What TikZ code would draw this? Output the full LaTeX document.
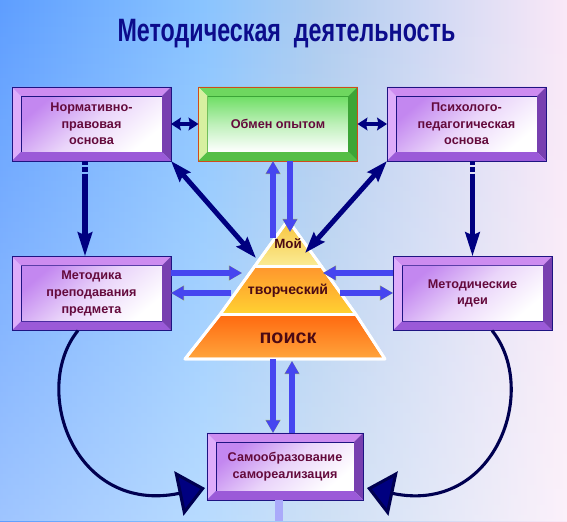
\documentclass[tikz,border=0pt]{standalone}
\usepackage{fontspec}
\setmainfont{Liberation Sans}
\newfontfamily\titlefont[FakeStretch=0.72]{Liberation Sans}
\usetikzlibrary{calc,arrows.meta,fadings}

\definecolor{titleblue}{RGB}{12,12,140}
\definecolor{boxtext}{RGB}{100,10,60}
\definecolor{pyrtext}{RGB}{75,10,20}
\definecolor{navyarrow}{RGB}{0,0,128}
\definecolor{curvenavy}{RGB}{0,0,80}
\definecolor{bluearrow}{RGB}{70,70,240}
\definecolor{bluerim}{RGB}{170,185,80}
\definecolor{bartint}{RGB}{170,170,250}
% purple frames
\definecolor{pupface}{RGB}{195,135,240}
\definecolor{puptop}{RGB}{205,140,240}
\definecolor{pupleft}{RGB}{222,172,250}
\definecolor{pupright}{RGB}{120,64,176}
\definecolor{pupbottom}{RGB}{155,90,216}
\definecolor{pupline}{RGB}{30,20,130}
% green frame
\definecolor{grnface}{RGB}{110,222,100}
\definecolor{grntop}{RGB}{110,215,95}
\definecolor{grnleft}{RGB}{215,240,160}
\definecolor{grnright}{RGB}{60,165,55}
\definecolor{grnbottom}{RGB}{85,190,70}
\definecolor{grnline}{RGB}{210,75,25}

\pgfdeclarehorizontalshading{backdrop}{100bp}{rgb(0bp)=(0.37,0.62,1);rgb(25bp)=(0.37,0.62,1);rgb(43bp)=(0.54,0.77,1);rgb(53bp)=(0.68,0.80,0.94);rgb(75bp)=(0.98,0.91,0.97);rgb(100bp)=(0.98,0.91,0.97)}

\newcommand{\bevelframe}[2]{%
  \fill[#2top] (#1.north west) -- (#1.north east) -- ($(#1.north east)+(-9,9)$) -- ($(#1.north west)+(9,9)$) -- cycle;
  \fill[#2left] (#1.north west) -- ($(#1.north west)+(9,9)$) -- ($(#1.south west)+(9,-9)$) -- (#1.south west) -- cycle;
  \fill[#2right] (#1.north east) -- ($(#1.north east)+(-9,9)$) -- ($(#1.south east)+(-9,-9)$) -- (#1.south east) -- cycle;
  \fill[#2bottom] (#1.south west) -- ($(#1.south west)+(9,-9)$) -- ($(#1.south east)+(-9,-9)$) -- (#1.south east) -- cycle;
  \draw[#2line] (#1.north west) rectangle (#1.south east);
}

\tikzset{
  framebox/.style={rectangle, inner sep=2pt, outer sep=0.225cm,
    minimum width=3.525cm, minimum height=1.4cm, align=center,
    text=boxtext, font=\bfseries\fontsize{9}{11.8}\selectfont},
  pupbox/.style={framebox, draw=pupline, top color=pupface, bottom color=white,
    middle color=pupface!35!white, shading angle=40},
  grnbox/.style={framebox, draw=grnright, top color=grnface, bottom color=white,
    middle color=grnface!45!white},
  navyarr/.style={draw=navyarrow, line width=3.5pt,
    {Stealth[length=15pt,width=10pt,inset=2pt]}-{Stealth[length=15pt,width=10pt,inset=2pt]}},
  navyshort/.style={draw=navyarrow, line width=3.5pt,
    {Stealth[length=7pt,width=9pt,inset=1pt]}-{Stealth[length=7pt,width=9pt,inset=1pt]}},
  navydown/.style={draw=navyarrow, line width=4pt, -{Stealth[length=17pt,width=10pt,inset=2pt]},
    dash pattern=on 3pt off 1.5pt on 3pt off 1.5pt on 200pt},
  bluearr/.style={draw=bluearrow, line width=3.6pt, -{Triangle[length=9pt,width=9.5pt]},
    preaction={draw=bluerim, line width=4.3pt, -{Triangle[length=9.4pt,width=10.3pt]}}},
  curvearr/.style={draw=curvenavy, line width=2.2pt,
    -{Triangle[length=19pt,width=32pt,fill=navyarrow]}},
  pyrlayer/.style={draw=white, line width=2pt, line join=round},
  pyrlabel/.style={text=pyrtext, font=\bfseries\fontsize{10}{12}\selectfont}
}

\begin{document}
\begin{tikzpicture}[x=0.025cm,y=-0.025cm]
\useasboundingbox (0,0) rectangle (567,521);
\fill[shading=backdrop] (0,0) rectangle (567,521);
\fill[white, fill opacity=0.4, path fading=north] (0,0) rectangle (567,521);

% title
\node[anchor=base, text=titleblue, font=\titlefont\bfseries\fontsize{23}{23}\selectfont]
  (title) at (286.5,41) {Методическая\ \ деятельность};

% frames
\node[pupbox] (norm) at (91.5,124) {Нормативно-\\правовая\\основа};
\bevelframe{norm}{pup}
\node[grnbox] (obmen) at (278,124) {Обмен опытом};
\bevelframe{obmen}{grn}
\node[pupbox] (psych) at (466.5,124) {Психолого-\\педагогическая\\основа};
\bevelframe{psych}{pup}
\node[pupbox] (metod) at (91.5,293.5) {Методика\\преподавания\\предмета};
\bevelframe{metod}{pup}
\node[pupbox] (idei) at (472.5,293.5) {Методические\\идеи};
\bevelframe{idei}{pup}
\node[pupbox, minimum width=3.45cm, minimum height=1.225cm] (samo) at (285,466.5)
  {Самообразование\\самореализация};
\bevelframe{samo}{pup}

% pyramid
\fill[pyrlayer, top color={rgb,255:red,248;green,196;blue,60}, bottom color={rgb,255:red,250;green,236;blue,150}]
  (288,220) -- (321.5,266.5) -- (254.5,266.5) -- cycle;
\fill[pyrlayer, top color={rgb,255:red,255;green,150;blue,45}, bottom color={rgb,255:red,255;green,210;blue,50}]
  (254.5,266.5) -- (321.5,266.5) -- (356,314.5) -- (220,314.5) -- cycle;
\fill[pyrlayer, top color={rgb,255:red,255;green,105;blue,15}, bottom color={rgb,255:red,255;green,165;blue,60}]
  (220,314.5) -- (356,314.5) -- (385,359) -- (185,359) -- cycle;
\draw[pyrlayer] (288,220) -- (321.5,266.5) -- (254.5,266.5) -- cycle;
\draw[pyrlayer] (254.5,266.5) -- (321.5,266.5) -- (356,314.5) -- (220,314.5) -- cycle;
\draw[pyrlayer] (220,314.5) -- (356,314.5) -- (385,359) -- (185,359) -- cycle;
\node[pyrlabel, font=\bfseries\fontsize{9.5}{11}\selectfont] (moi) at (288,244) {Мой};
\node[pyrlabel] (tvor) at (288,291) {творческий};
\node[pyrlabel, font=\bfseries\fontsize{14}{16}\selectfont] (poisk) at (288,338) {поиск};

% pyramid ends of the connectors
\coordinate (pyrL) at (256,258);
\coordinate (pyrR) at (305,253);
\coordinate (pyrUpL) at (273,238);
\coordinate (pyrUpR) at (290,232);
\coordinate (pyrLtop) at (242,273);
\coordinate (pyrLbot) at (231,293);
\coordinate (pyrRtop) at (323,273);
\coordinate (pyrRbot) at (340,293);
\coordinate (pyrDnL) at (273,359);
\coordinate (pyrDnR) at (292,361);

% dark arrows
\draw[navyshort] (norm.east) -- (obmen.west);
\draw[navyshort] (obmen.east) -- (psych.west);
\draw[navyarr] (norm.south east) -- (pyrL);
\draw[navyarr] (psych.south west) -- (pyrR);
\draw[navydown] ($(norm.south)+(-6.5,0)$) -- ($(metod.north)+(-6.5,0)$);
\draw[navydown] (idei.north |- psych.south) -- (idei.north);

% blue arrows
\draw[bluearr] (pyrUpL) -- (pyrUpL |- obmen.south);
\draw[bluearr] (pyrUpR |- obmen.south) -- (pyrUpR);
\draw[bluearr] (pyrLtop -| metod.east) -- (pyrLtop);
\draw[bluearr] (pyrLbot) -- (pyrLbot -| metod.east);
\draw[bluearr] (pyrRtop -| idei.west) -- (pyrRtop);
\draw[bluearr] (pyrRbot) -- (pyrRbot -| idei.west);
\draw[bluearr] (pyrDnL) -- (pyrDnL |- samo.north);
\draw[bluearr] (pyrDnR |- samo.north) -- (pyrDnR);

% curved arrows
\coordinate (samoL) at ($(samo.south west)+(-2,-12)$);
\coordinate (samoR) at ($(samo.south east)+(4,-12)$);
\draw[curvearr] ($(metod.south)+(-13.5,0)$) .. controls (30,390) and (75,515) .. (samoL);
\draw[curvearr] ($(idei.south)+(19.5,0)$) .. controls (540,390) and (495,515) .. (samoR);

% stub below
\fill[bartint] ($(samo.south)+(-10,0)$) rectangle ($(samo.south)+(-2,21)$);
\end{tikzpicture}
\end{document}
